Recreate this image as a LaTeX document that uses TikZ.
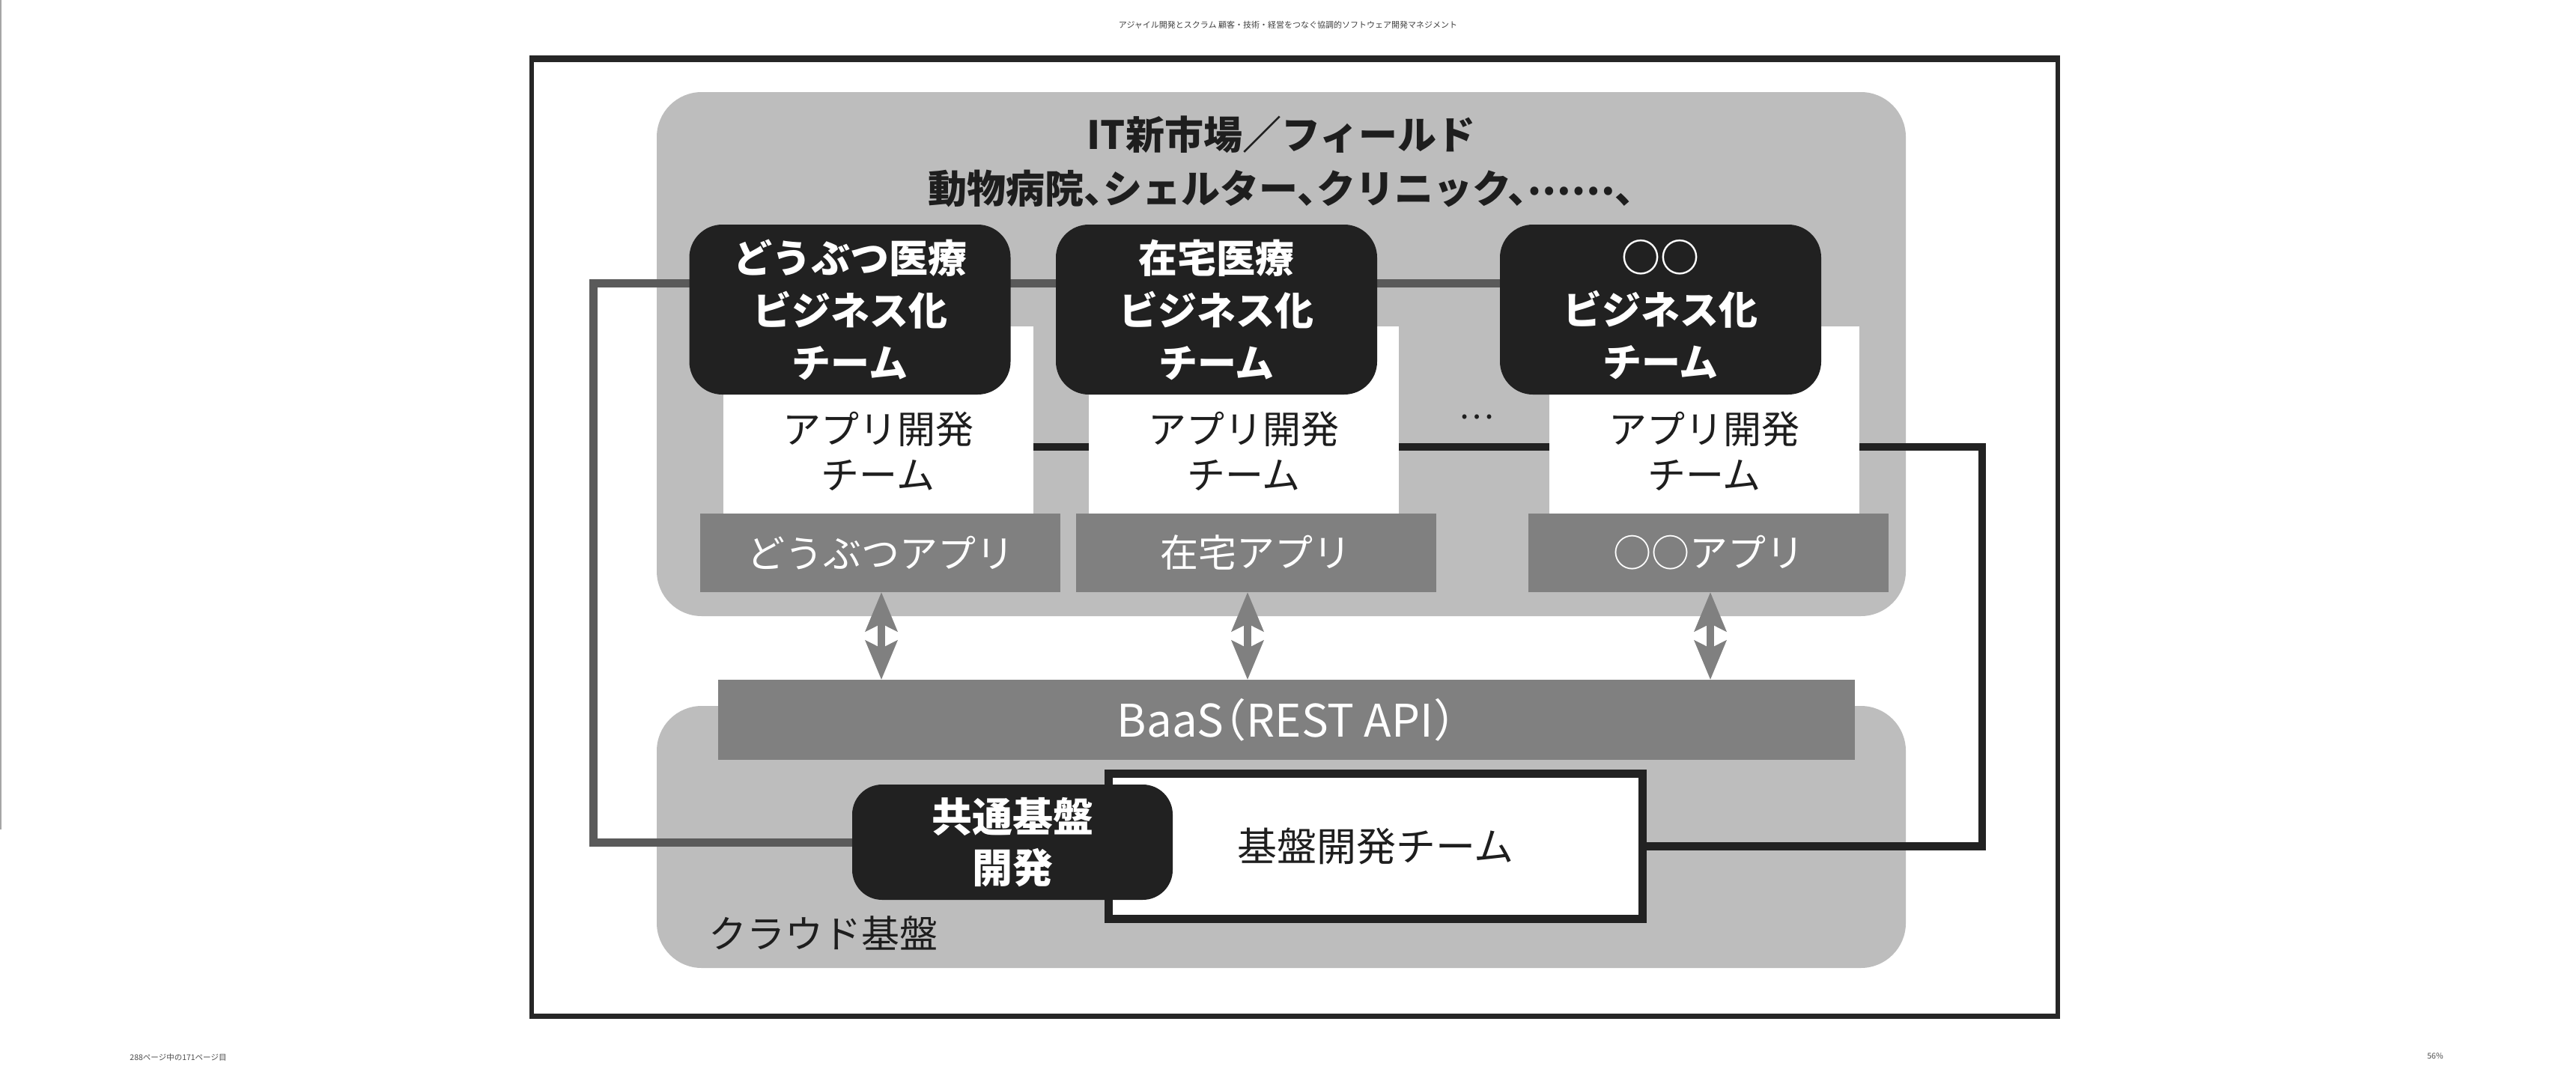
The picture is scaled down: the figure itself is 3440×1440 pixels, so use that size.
\documentclass[tikz,border=0pt]{standalone}
\usepackage{fontspec}
\setmainfont{Noto Sans CJK JP}
\newfontfamily\jph[RawFeature=+halt]{Noto Sans CJK JP}
\usetikzlibrary{arrows.meta}
\pgfdeclarelayer{bg}
\pgfdeclarelayer{lines}
\pgfsetlayers{bg,lines,main}
\definecolor{regiongray}{HTML}{BDBDBD}
\definecolor{appgray}{HTML}{808080}
\definecolor{boxblack}{HTML}{212121}
\definecolor{linegray}{HTML}{5A5A5A}
\definecolor{lineblack}{HTML}{222222}
\definecolor{framecol}{HTML}{262626}
\definecolor{txtdark}{HTML}{1E1E1E}
\tikzset{
  region/.style={fill=regiongray, draw=none, rounded corners=60pt, inner sep=0pt, outer sep=0pt},
  bizbox/.style={fill=boxblack, draw=none, rounded corners=44pt, inner sep=0pt, outer sep=0pt,
    minimum width=429pt, minimum height=227pt, text=white, align=center,
    font=\fontsize{52pt}{70pt}\selectfont\bfseries},
  devbox/.style={fill=white, draw=none, inner sep=0pt, outer sep=0pt,
    minimum width=414pt, minimum height=250pt},
  devtext/.style={text=txtdark, align=center, inner sep=0pt, font=\fontsize{51pt}{61pt}\selectfont},
  appbox/.style={fill=appgray, draw=none, inner sep=0pt, outer sep=0pt,
    minimum width=481pt, minimum height=105pt, text=white, font=\fontsize{51pt}{60pt}\selectfont},
  grayline/.style={draw=linegray, line width=11pt},
  blackline/.style={draw=lineblack, line width=10.5pt},
  dbl/.style={draw=appgray, line width=10pt,
    {Stealth[length=52pt,width=42pt,inset=10pt]}-{Stealth[length=52pt,width=42pt,inset=10pt]}},
}
\begin{document}
\begin{tikzpicture}[x=1pt,y=-1pt]
\useasboundingbox (0,0) rectangle (3440,1440);
\begin{pgfonlayer}{bg}
\fill[white] (0,0) rectangle (3440,1440);
\draw[line width=1.5pt, color=black!35] (0.75,0) -- (0.75,1108);
\draw[line width=6.5pt, color=framecol] (710,78) rectangle (2748,1357.5);
\draw[line width=9pt, color=framecol] (707,78.5) -- (2751,78.5);
\node[region, minimum width=1668pt, minimum height=700pt] (field) at (1711,473) {};
\node[region, minimum width=1668pt, minimum height=350pt] (cloud) at (1711,1118) {};
\end{pgfonlayer}
% page decorations
\node[text=black!75, inner sep=0pt, font=\fontsize{11pt}{13pt}\selectfont] (hdr) at (1720,33)
  {アジャイル開発とスクラム 顧客・技術・経営をつなぐ協調的ソフトウェア開発マネジメント};
\node[text=black!70, inner sep=0pt, font=\fontsize{10.5pt}{12pt}\selectfont] (pg) at (238,1412)
  {288ページ中の171ページ目};
\node[text=black!70, inner sep=0pt, font=\fontsize{10.5pt}{12pt}\selectfont] (pct) at (3252,1411) {56\%};
% labels
\node[text=txtdark, anchor=west, inner sep=0pt, font=\fontsize{51pt}{60pt}\selectfont] (cloudlbl) at (946,1246) {クラウド基盤};
\node[text=txtdark, align=center, inner sep=0pt, font=\fontsize{52pt}{72pt}\selectfont\bfseries] (title) at (1711,216)
  {IT新市場／フィールド\\{\jph 動物病院、シェルター、クリニック、\raisebox{0.22em}{……}、}};
% bends
\coordinate (gl) at (792.5,378.5);
\coordinate (bl) at (2647,597);
% white dev boxes
\node[devbox] (dev1) at (1172.5,561) {};
\node[devbox] (dev2) at (1661,561) {};
\node[devbox] (dev3) at (2276,561) {};
\node[devtext] (dev1t) at ([yshift=-41.5pt]dev1.center) {アプリ開発\\チーム};
\node[devtext] (dev2t) at ([yshift=-41.5pt]dev2.center) {アプリ開発\\チーム};
\node[devtext] (dev3t) at ([yshift=-41.5pt]dev3.center) {アプリ開発\\チーム};
\node[text=txtdark, inner sep=0pt, font=\fontsize{44pt}{48pt}\selectfont] (dots) at (1972,557) {…};
% black business boxes
\node[bizbox] (biz1) at (1135,413.5) {どうぶつ医療\\ビジネス化\\チーム};
\node[bizbox] (biz2) at (1624.5,413.5) {在宅医療\\ビジネス化\\チーム};
\node[bizbox] (biz3) at (2217.5,413.5) {○○\\ビジネス化\\チーム};
% app boxes
\node[appbox] (app1) at (1175.5,738.5) {どうぶつアプリ};
\node[appbox] (app2) at (1677,738.5) {在宅アプリ};
\node[appbox] (app3) at (2281.5,738.5) {○○アプリ};
% BaaS
\node[fill=appgray, inner sep=0pt, outer sep=0pt, minimum width=1518pt, minimum height=107pt,
  text=white, font=\fontsize{60pt}{70pt}\selectfont\jph] (baas) at (1718,961.5) {BaaS（REST API）};
% base team
\node[fill=white, draw=lineblack, line width=11pt, inner sep=0pt, outer sep=0pt,
  minimum width=713pt, minimum height=194pt, text=txtdark, font=\fontsize{53pt}{60pt}\selectfont] (kiban) at (1837,1130.5) {基盤開発チーム};
\node[fill=boxblack, rounded corners=40pt, inner sep=0pt, outer sep=0pt, minimum width=428pt, minimum height=154pt,
  text=white, align=center, font=\fontsize{54pt}{68pt}\selectfont\bfseries] (kyotsu) at (1352,1125) {共通基盤\\開発};
% arrows
\draw[dbl] ([xshift=1.5pt]app1.south) -- ([xshift=1.5pt]app1.south |- baas.north);
\draw[dbl] ([xshift=-11pt]app2.south) -- ([xshift=-11pt]app2.south |- baas.north);
\draw[dbl] ([xshift=2.5pt]app3.south) -- ([xshift=2.5pt]app3.south |- baas.north);
% connectors behind boxes
\begin{pgfonlayer}{lines}
\draw[grayline] ([yshift=35pt]biz3.west) -- (gl) |- (kyotsu.west);
\draw[blackline] ([yshift=-36pt]dev1.east) -- (bl) |- (kiban.east);
\end{pgfonlayer}
\end{tikzpicture}
\end{document}
